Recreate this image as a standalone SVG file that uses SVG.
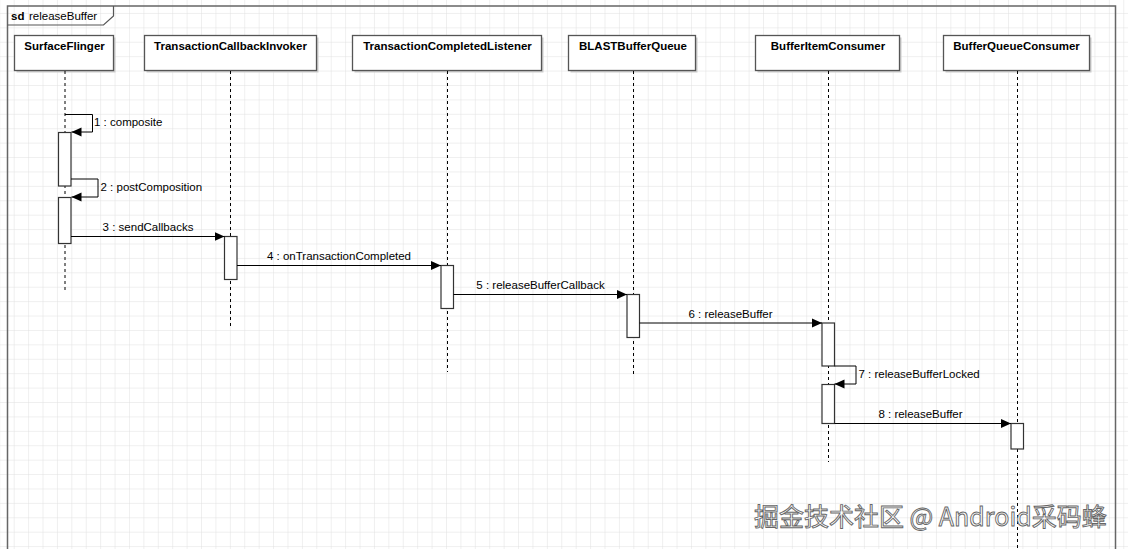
<svg xmlns="http://www.w3.org/2000/svg" width="1128" height="549" viewBox="0 0 1128 549">
<defs>
<pattern id="grid" width="14.41" height="14.41" x="13.7" y="12.95" patternUnits="userSpaceOnUse">
<path d="M0 0H14.41M0 0V14.41" fill="none" stroke="#e0e0e0" stroke-width="1"/>
</pattern>
<marker id="arr" markerWidth="11" markerHeight="10" refX="10" refY="5" orient="auto" markerUnits="userSpaceOnUse">
<path d="M0 0.5L10 5L0 9.5Z" fill="#000"/>
</marker>
<style>
.box{fill:#fff;stroke:#555;stroke-width:1.3}
.shadow{fill:#ccc;stroke:none}
.title{font-family:"Liberation Sans",Arial,sans-serif;font-size:11.5px;font-weight:bold;fill:#000;text-anchor:middle}
.lbl{font-family:"Liberation Sans",Arial,sans-serif;font-size:11.5px;fill:#000}
.mid{text-anchor:middle}
.life{stroke:#000;stroke-width:1;stroke-dasharray:3 3;fill:none}
.act{fill:#fff;stroke:#333;stroke-width:1.2}
.msg{stroke:#000;stroke-width:1;fill:none;marker-end:url(#arr)}
.wm{font-family:"Noto Sans CJK SC","Liberation Sans",sans-serif;font-size:25px;fill:#fff;stroke:#666;stroke-width:0.9}
</style>
</defs>
<rect x="0" y="0" width="1128" height="549" fill="#fff"/>
<rect x="0" y="0" width="1128" height="549" fill="url(#grid)"/>

<g id="frame">
<rect x="7.5" y="6" width="1108" height="560" fill="none" stroke="#666" stroke-width="1.5"/>
<path d="M7.5 25H103.5L113.5 16V6" fill="none" stroke="#555" stroke-width="1.2"/>
<text x="11" y="20" class="lbl" font-weight="bold">sd</text>
<text x="29" y="20" class="lbl">releaseBuffer</text>
</g>

<g id="SurfaceFlinger">
<rect x="16.5" y="37.5" width="99" height="35" class="shadow"/>
<rect x="14.5" y="35.5" width="99" height="35" class="box"/>
<text x="64.5" y="50" class="title">SurfaceFlinger</text>
<path d="M65 71V291" class="life"/>
</g>
<g id="TransactionCallbackInvoker">
<rect x="146.5" y="37.5" width="172" height="35" class="shadow"/>
<rect x="144.5" y="35.5" width="172" height="35" class="box"/>
<text x="230.5" y="50" class="title">TransactionCallbackInvoker</text>
<path d="M230.5 71V328" class="life"/>
</g>
<g id="TransactionCompletedListener">
<rect x="354.5" y="37.5" width="189" height="35" class="shadow"/>
<rect x="352.5" y="35.5" width="189" height="35" class="box"/>
<text x="447.5" y="50" class="title">TransactionCompletedListener</text>
<path d="M447.5 71V372" class="life"/>
</g>
<g id="BLASTBufferQueue">
<rect x="570.5" y="37.5" width="127" height="35" class="shadow"/>
<rect x="568.5" y="35.5" width="127" height="35" class="box"/>
<text x="633" y="50" class="title">BLASTBufferQueue</text>
<path d="M633.5 71V377" class="life"/>
</g>
<g id="BufferItemConsumer">
<rect x="757.5" y="37.5" width="144" height="35" class="shadow"/>
<rect x="755.5" y="35.5" width="144" height="35" class="box"/>
<text x="828" y="50" class="title">BufferItemConsumer</text>
<path d="M828.5 71V462" class="life"/>
</g>
<g id="BufferQueueConsumer">
<rect x="945.5" y="37.5" width="146" height="35" class="shadow"/>
<rect x="943.5" y="35.5" width="146" height="35" class="box"/>
<text x="1016.5" y="50" class="title">BufferQueueConsumer</text>
<path d="M1017.5 71V549" class="life"/>
</g>

<g id="activations">
<rect x="58.5" y="132.5" width="12.5" height="53.5" class="act"/>
<rect x="58.5" y="197.5" width="12.5" height="46" class="act"/>
<rect x="224.5" y="236.5" width="12.5" height="43" class="act"/>
<rect x="441" y="265.5" width="12.5" height="43" class="act"/>
<rect x="627" y="294.5" width="12.5" height="43" class="act"/>
<rect x="822" y="323" width="12.5" height="43" class="act"/>
<rect x="822" y="384.5" width="12.5" height="39" class="act"/>
<rect x="1011" y="423.5" width="12.5" height="25.5" class="act"/>
</g>

<g id="connectors">
<path d="M65 114.5H92.5V132H71.5" class="msg"/>
<path d="M71 179H98V197H71.5" class="msg"/>
<path d="M71 236.5H224.5" class="msg"/>
<path d="M237 265.5H441" class="msg"/>
<path d="M453.5 294.5H627" class="msg"/>
<path d="M639.5 323H822" class="msg"/>
<path d="M834.5 366H856V384H834.5" class="msg"/>
<path d="M834.5 423.5H1011" class="msg"/>
</g>

<g id="labels">
<text x="94" y="126" class="lbl">1 : composite</text>
<text x="100.5" y="191" class="lbl">2 : postComposition</text>
<text x="148" y="230.5" class="lbl mid">3 : sendCallbacks</text>
<text x="339" y="259.5" class="lbl mid">4 : onTransactionCompleted</text>
<text x="540.5" y="288.5" class="lbl mid">5 : releaseBufferCallback</text>
<text x="730.5" y="317.5" class="lbl mid">6 : releaseBuffer</text>
<text x="858.5" y="378" class="lbl">7 : releaseBufferLocked</text>
<text x="920.5" y="417.5" class="lbl mid">8 : releaseBuffer</text>
</g>

<text x="754" y="526" class="wm">掘金技术社区 @ Android采码蜂</text>
</svg>
